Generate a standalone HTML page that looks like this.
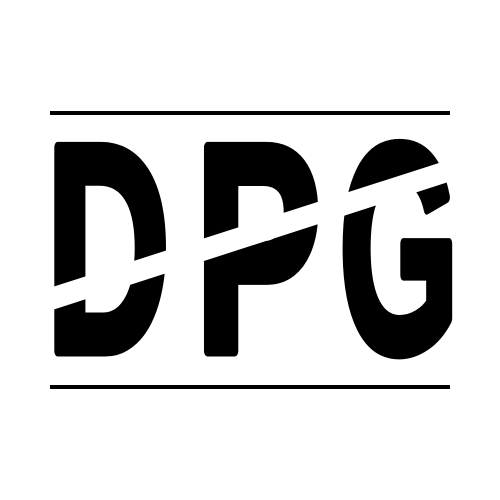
<!DOCTYPE html>
<html><head><meta charset="utf-8"><style>
html,body{margin:0;padding:0;background:#fff;width:500px;height:500px;overflow:hidden}
</style></head><body>
<svg width="500" height="500" viewBox="0 0 500 500">
<rect x="0" y="0" width="500" height="500" fill="#fff"/>
<rect x="50" y="111" width="400" height="4" fill="#000"/>
<rect x="50" y="385" width="400" height="4" fill="#000"/>
<g font-family="Liberation Sans, sans-serif" font-weight="bold" font-size="296" text-anchor="middle" fill="#000" stroke="#000" stroke-width="11" stroke-linejoin="round">
<text transform="translate(108,351) scale(0.58,1)" x="0" y="0">D</text>
<text transform="translate(258,351) scale(0.64,1)" x="0" y="0">P</text>
<text transform="translate(399,351) scale(0.52,1)" x="0" y="0">G</text>
</g>
<polygon points="40,291 470,153 470,175 40,314" fill="#fff"/>
</svg>
</body></html>
